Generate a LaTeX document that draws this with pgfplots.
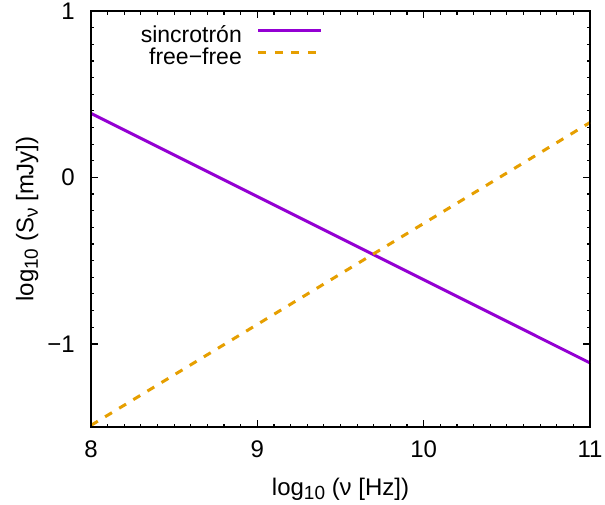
\documentclass[border=0pt]{standalone}
\usepackage{pgfplots}
\pgfplotsset{compat=1.18}
\usepackage{fontspec}
\setmainfont{Liberation Sans}
\definecolor{sync}{HTML}{9400D3}
\definecolor{ff}{HTML}{E69F00}
\newcommand{\sub}[1]{\raisebox{-0.35ex}{\fontsize{19}{20}\selectfont #1}}
\begin{document}
\begin{tikzpicture}
\begin{axis}[
  name=ax,
  width=499pt, height=416pt, scale only axis,
  xmin=8, xmax=11, ymin=-1.5, ymax=1,
  xtick={8,9,10,11}, xticklabels={8,9,10,11},
  ytick={-1,0,1}, yticklabels={−1,0,1},
  minor x tick num=9, minor y tick num=9,
  tick align=inside,
  major tick length=7pt, minor tick length=3.5pt,
  major tick style={line width=1.5pt, black},
  minor tick style={line width=1.2pt, black},
  axis line style={line width=2.5pt, black},
  font=\fontsize{24}{28}\selectfont,
  xticklabel style={inner sep=0pt, anchor=north, yshift=-14pt},
  yticklabel style={inner sep=0pt, anchor=east, xshift=-16pt},
  xlabel={log\sub{10} (ν [Hz])},
  ylabel={log\sub{10} (S\sub{ν} [mJy])},
  xlabel style={at={(axis description cs:0.5,0)}, anchor=base, yshift=-68pt, inner sep=0pt},
  ylabel style={at={(axis description cs:-0.128,0.5)}, anchor=center, rotate=0, inner sep=0pt},
  legend style={draw=none, fill=none, at={(0.465,0.966)}, anchor=north east,
    inner sep=0pt, column sep=15pt, row sep=0pt,
    nodes={inner sep=0pt, text height=17pt, text depth=5pt, font=\fontsize{23}{27}\selectfont}},
  legend cell align=right,
  legend plot pos=right,
  legend image code/.code={\draw[#1] (0pt,6pt) -- (63pt,6pt);},
]
\addplot[sync, line width=3pt] coordinates {(8,0.385) (11,-1.115)};
\addlegendentry{sincrotrón}
\addplot[ff, line width=3pt, dash pattern=on 8pt off 8.5pt] coordinates {(8,-1.49) (11,0.33)};
\addlegendentry{free−free}
\draw[line width=2.5pt, black] (rel axis cs:0,0) rectangle (rel axis cs:1,1);
\end{axis}
\pgfresetboundingbox
\path[use as bounding box] (ax.south west) ++(-91pt,-77pt) rectangle ++(605pt,504pt);
\end{tikzpicture}
\end{document}
